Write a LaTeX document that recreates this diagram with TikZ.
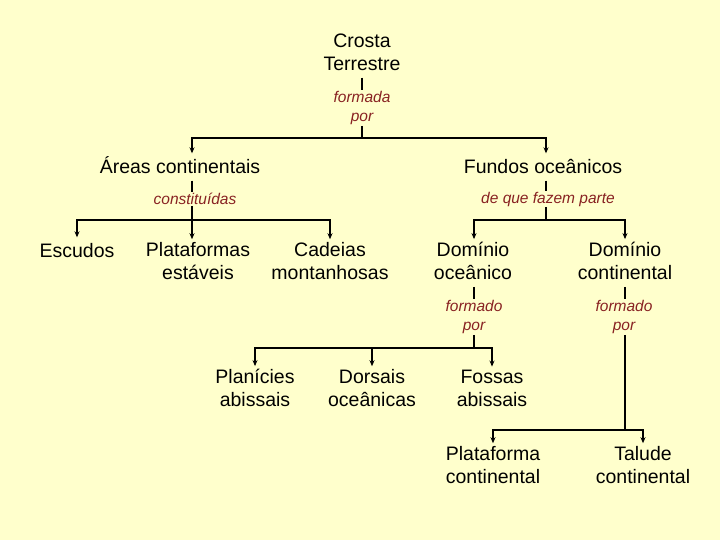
\documentclass[tikz,border=0pt]{standalone}
\usepackage{fontspec}
\setmainfont{Liberation Sans}
\usepackage{tikz}
\usetikzlibrary{arrows.meta}
\pgfdeclarelayer{bglayer}
\pgfdeclarelayer{nodelayer}
\pgfdeclarelayer{edgelayer}
\pgfsetlayers{bglayer, nodelayer, edgelayer, main}
\definecolor{paper}{HTML}{FFFFCC}
\definecolor{linkred}{HTML}{882222}
\tikzset{
  concept/.style={align=center, inner sep=3pt, font=\fontsize{19.5}{23}\selectfont,
    execute at begin node={\vphantom{Á}}, execute at end node={\vphantom{g}}},
  linkword/.style={align=center, inner sep=1pt, text=linkred, font=\fontsize{15.5}{19}\selectfont\itshape},
  stem/.style={line width=1.2pt},
  branch/.style={line width=1.2pt, -{Stealth[length=6pt,width=5pt]}}
}

\begin{document}
\begin{tikzpicture}[x=1pt, y=-1pt]
	\begin{pgfonlayer}{bglayer}
        \fill[paper] (0,0) rectangle (720,540);
        \useasboundingbox (0,0) rectangle (720,540);
	\end{pgfonlayer}
	\begin{pgfonlayer}{nodelayer}
        \node[concept] (1) at (362,54) {Crosta\\Terrestre};
        \node[linkword] (l1) at (362,108) {formada\\por};
        \coordinate (j1) at (362,138);
        \node[concept] (2) at (180,167) {Áreas continentais};
        \node[concept] (3) at (543,167) {Fundos oceânicos};
        \node[linkword] (l2) at (195,199) {constituídas};
        \coordinate (j2) at (192,220);
        \node[linkword] (l3) at (548,199) {de que fazem parte};
        \coordinate (j3) at (546,220);
        \node[concept] (4) at (77,251) {Escudos};
        \node[concept] (5) at (198,263) {Plataformas\\estáveis};
        \node[concept] (6) at (330,263) {Cadeias\\montanhosas};
        \node[concept] (7) at (473,263) {Domínio\\oceânico};
        \node[concept] (8) at (625,263) {Domínio\\continental};
        \node[linkword] (l4) at (474,317) {formado\\por};
        \coordinate (j4) at (474,348);
        \node[linkword] (l5) at (624,317) {formado\\por};
        \coordinate (j5) at (625,430);
        \node[concept] (9) at (255,390) {Planícies\\abissais};
        \node[concept] (10) at (372,390) {Dorsais\\oceânicas};
        \node[concept] (11) at (492,390) {Fossas\\abissais};
        \node[concept] (12) at (493,467) {Plataforma\\continental};
        \node[concept] (13) at (643,467) {Talude\\continental};
	\end{pgfonlayer}
	\begin{pgfonlayer}{edgelayer}
        \draw[stem] (1) -- (l1);
        \draw[stem] (l1) -- (j1);
        \draw[branch] (j1) -| ([xshift=12pt]2.north);
        \draw[branch] (j1) -| (3.north -| j3);
        \draw[stem] (2.south -| j2) -- (l2.north -| j2);
        \draw[stem] (l2.south -| j2) -- (j2);
        \draw[branch] (j2) -| (4);
        \draw[branch] (j2) -| (5.north -| j2);
        \draw[branch] (j2) -| (6);
        \draw[stem] (3.south -| j3) -- (l3.north -| j3);
        \draw[stem] (l3.south -| j3) -- (j3);
        \draw[branch] (j3) -| (7.north -| j4);
        \draw[branch] (j3) -| (8);
        \draw[stem] (7.south -| j4) -- (l4.north -| j4);
        \draw[stem] (l4.south -| j4) -- (j4);
        \draw[branch] (j4) -| (9);
        \draw[branch] (j4) -| (10);
        \draw[branch] (j4) -| (11);
        \draw[stem] (8.south -| j5) -- (l5.north -| j5);
        \draw[stem] (l5.south -| j5) -- (j5);
        \draw[branch] (j5) -| (12);
        \draw[branch] (j5) -| (13);
	\end{pgfonlayer}
    \end{tikzpicture}
\end{document}
